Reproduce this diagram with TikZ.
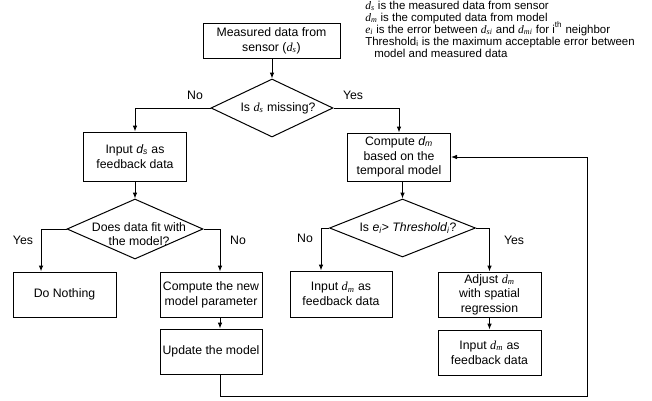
\documentclass[tikz,border=0pt]{standalone}
\usepackage{fontspec}
\setmainfont{Liberation Sans}
\newfontfamily\tnr{Liberation Serif}
\usetikzlibrary{arrows.meta,shapes.geometric}
\newcommand{\sv}[2]{{\tnr\itshape #1\textsubscript{#2}}}
\newcommand{\av}[2]{{\itshape #1\textsubscript{#2}}}
\begin{document}
\begin{tikzpicture}[x=0.75pt,y=-0.75pt,
  box/.style={draw, line width=0.75pt, align=center, inner sep=0pt, font=\fontsize{9.2}{11}\selectfont},
  dia/.style={draw, diamond, line width=0.75pt, inner sep=0pt},
  txt/.style={font=\fontsize{9.2}{11}\selectfont, align=center, inner sep=0pt},
  lbl/.style={font=\fontsize{9.2}{11}\selectfont, inner sep=0pt},
  leg/.style={font=\fontsize{8.6}{9}\selectfont, anchor=base west, inner sep=0pt},
  arr/.style={line width=0.75pt, -{Latex[length=4.5pt,width=3.5pt]}}]
\useasboundingbox (0,0) rectangle (652,400);
% legend
\node[leg] (l1) at (365,9) {\sv{d}{s} is the measured data from sensor};
\node[leg] (l2) at (365,21) {\sv{d}{m} is the computed data from model};
\node[leg] (l3) at (365,33) {\sv{e}{i} is the error between \sv{d}{si} and \sv{d}{mi} for i\textsuperscript{th} neighbor};
\node[leg] (l4) at (365,45) {Threshold\textsubscript{i} is the maximum acceptable error between};
\node[leg] (l5) at (374,57) {model and measured data};
% boxes
\node[box, minimum width=137*0.75pt, minimum height=35*0.75pt] (src) at (271.5,40.5) {Measured data from\\sensor (\sv{d}{s})};
\node[dia, minimum width=122*0.75pt, minimum height=58*0.75pt] (d1) at (272,108) {};
\node[txt] (d1t) at (278,108) {Is \sv{d}{s} missing?};
\node[box, minimum width=103*0.75pt, minimum height=49*0.75pt] (inds) at (135,156.5) {Input \av{d}{s} as\\feedback data};
\node[dia, minimum width=136*0.75pt, minimum height=60*0.75pt] (d2) at (135,229) {};
\node[txt] (d2t) at (139,234) {Does data fit with\\the model?};
\node[box, minimum width=103*0.75pt, minimum height=45*0.75pt] (noth) at (64.5,294.5) {Do Nothing};
\node[box, minimum width=102*0.75pt, minimum height=45*0.75pt] (cnew) at (211,294.5) {Compute the new\\model parameter};
\node[box, minimum width=102*0.75pt, minimum height=45*0.75pt] (upd) at (211,351.5) {Update the model};
\node[box, minimum width=103*0.75pt, minimum height=48*0.75pt] (cdm) at (399,157) {Compute \av{d}{m}\\based on the\\temporal model};
\node[dia, minimum width=146*0.75pt, minimum height=58*0.75pt] (d3) at (402.5,228) {};
\node[txt] (d3t) at (408,228) {Is \av{e}{i}> \textit{Threshold\textsubscript{i}}?};
\node[box, minimum width=102*0.75pt, minimum height=46*0.75pt] (idm1) at (341,294) {Input \sv{d}{m} as\\feedback data};
\node[box, minimum width=103*0.75pt, minimum height=45*0.75pt] (adj) at (489.5,294.5) {Adjust \sv{d}{m}\\with spatial\\regression};
\node[box, minimum width=103*0.75pt, minimum height=45*0.75pt] (idm2) at (489.5,352.5) {Input \sv{d}{m} as\\feedback data};
% labels
\node[lbl] (n1) at (195,95) {No};
\node[lbl] (y1) at (353,95) {Yes};
\node[lbl] (y2) at (23,240) {Yes};
\node[lbl] (n2) at (238,240) {No};
\node[lbl] (n3) at (305,238) {No};
\node[lbl] (y3) at (514,240) {Yes};
% connectors
\coordinate (loopc) at (587,396);
\draw[arr] (d1.north |- src.south) -- (d1.north);
\draw[arr] (d1.west) -| (inds.north);
\draw[arr] (d1.east) -| (cdm.north);
\draw[arr] (inds.south) -- (d2.north);
\draw[arr] (d2.west) -| ([xshift=-17.6pt]noth.north);
\draw[arr] (d2.east) -| ([xshift=6.75pt]cnew.north);
\draw[arr] ([xshift=6.75pt]cnew.south) -- ([xshift=6.75pt]upd.north);
\draw[arr] ([xshift=6.75pt]upd.south) |- (loopc) |- (cdm.east);
\draw[arr] (d3.north |- cdm.south) -- (d3.north);
\draw[arr] (d3.west) -| ([xshift=-15pt]idm1.north);
\draw[arr] (d3.east) -| (adj.north);
\draw[arr] (adj.south) -- (idm2.north);
\end{tikzpicture}
\end{document}
